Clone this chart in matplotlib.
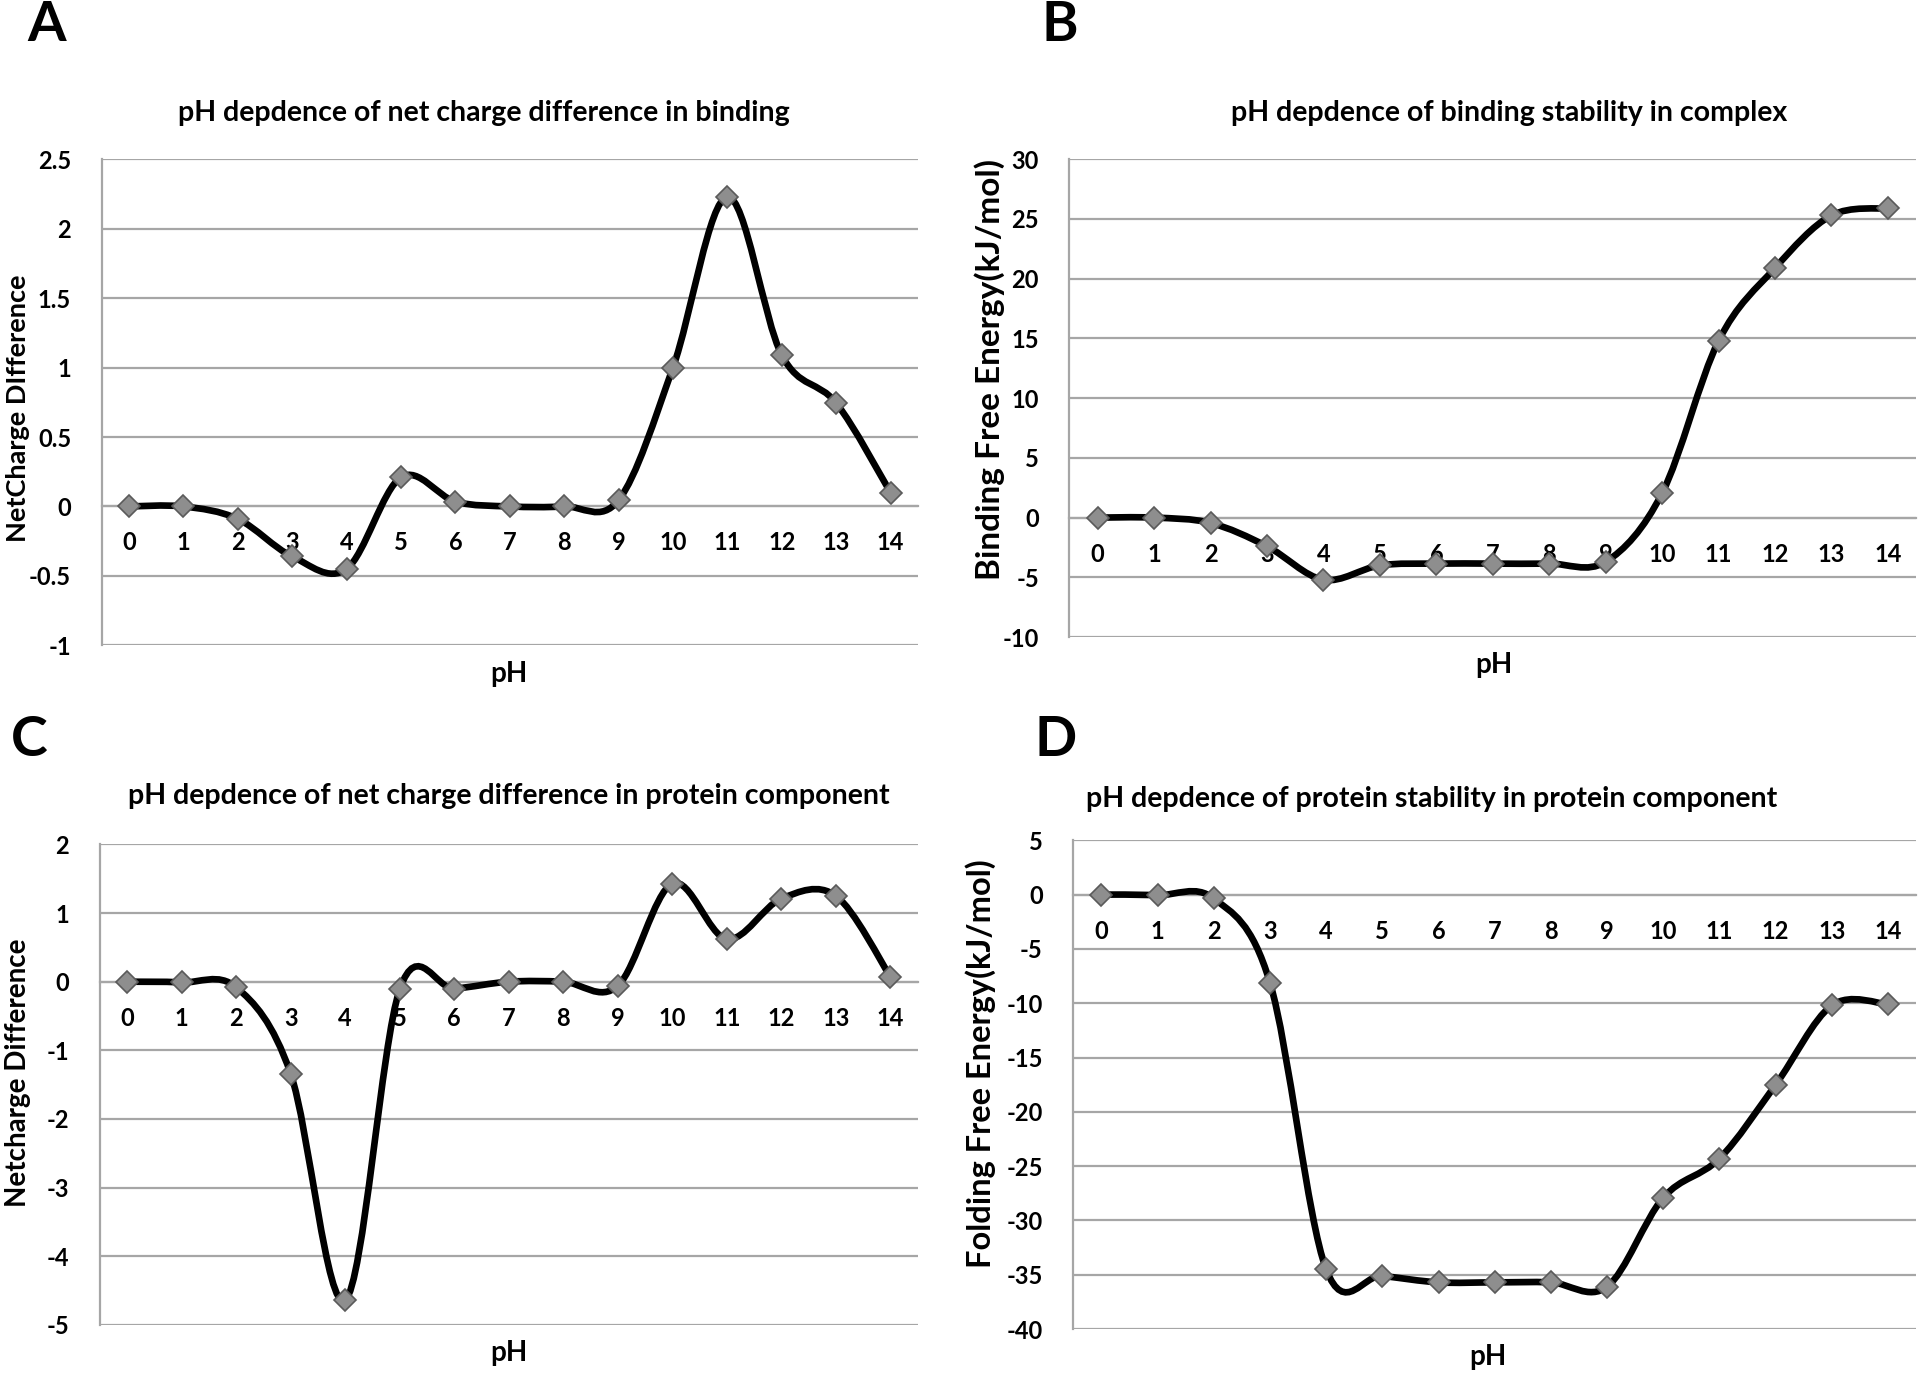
import numpy as np
import matplotlib as mpl
mpl.use('Agg')
import matplotlib.pyplot as plt
from matplotlib.path import Path
from matplotlib.patches import PathPatch

# ========== Data ==========
ph = list(range(15))

net_binding = [0, 0, -0.09, -0.36, -0.45, 0.21, 0.035, 0.0, 0.0, 0.045, 1.0, 2.23, 1.09, 0.745, 0.1]
dg_binding = [0, 0, -0.45, -2.4, -5.2, -4.0, -3.85, -3.85, -3.85, -3.7, 2.05, 14.8, 20.9, 25.3, 25.9]
net_protein = [0, -0.01, -0.08, -1.34, -4.64, -0.11, -0.1, 0.0, 0.0, -0.06, 1.43, 0.62, 1.21, 1.25, 0.07]
dg_folding = [0, -0.05, -0.36, -8.1, -34.5, -35.1, -35.7, -35.7, -35.7, -36.1, -27.9, -24.3, -17.5, -10.2, -10.1]

titles = ["pH depdence of net charge difference in binding",
          "pH depdence of binding stability in complex",
          "pH depdence of net charge difference in protein component",
          "pH depdence of protein stability in protein component"]
ylabels = ["NetCharge DIfference", "Binding Free Energy(kJ/mol)",
           "Netcharge Difference", "Folding Free Energy(kJ/mol)"]
letters = ["A", "B", "C", "D"]
ylims = [(-1, 2.5, 0.5), (-10, 30, 5), (-5, 2, 1), (-40, 5, 5)]

FONT = "Lato"
GRID = "#a6a6a6"


def smooth_path(x, y):
    # excel style smoothed line: catmull-rom segments as cubic beziers
    pts = np.column_stack([x, y]).astype(float)
    n = len(pts)
    verts = [pts[0]]
    codes = [Path.MOVETO]
    for i in range(n - 1):
        p0 = pts[max(i - 1, 0)]
        p1 = pts[i]
        p2 = pts[i + 1]
        p3 = pts[min(i + 2, n - 1)]
        c1 = p1 + (p2 - p0) / 6.0
        c2 = p2 - (p3 - p1) / 6.0
        verts += [c1, c2, p2]
        codes += [Path.CURVE4] * 3
    return Path(verts, codes)


def draw_panel(fig, rect, y, title, ylabel, letter, lim, title_x, title_y,
               letter_xy, ylab_xy, ylab_size, xlab_xy):
    ax = fig.add_axes(rect)
    ymin, ymax, step = lim
    ax.set_xlim(-0.5, 14.5)
    ax.set_ylim(ymin, ymax)
    ax.set_yticks(np.arange(ymin, ymax + step / 2, step))
    ax.yaxis.set_major_formatter(mpl.ticker.FuncFormatter(lambda v, p: f"{v:g}"))
    ax.set_xticks(ph)
    ax.grid(axis="y", color=GRID, lw=1.6)
    ax.set_axisbelow(True)
    for s in ["top", "right"]:
        ax.spines[s].set_visible(False)
    ax.spines["left"].set_color(GRID)
    ax.spines["left"].set_linewidth(1.6)
    ax.spines["bottom"].set_position(("data", 0))
    ax.spines["bottom"].set_color(GRID)
    ax.spines["bottom"].set_linewidth(1.6)
    ax.tick_params(axis="both", length=0, labelsize=17)
    ax.tick_params(axis="x", pad=18)
    ax.tick_params(axis="y", pad=22)
    for lab in ax.get_xticklabels() + ax.get_yticklabels():
        lab.set_fontfamily(FONT)
        lab.set_fontweight("bold")

    ax.add_patch(PathPatch(smooth_path(ph, y), fill=False, lw=4.8,
                           ec="black", capstyle="round", zorder=3))
    ax.plot(ph, y, ls="none", marker="D", ms=11.5, mfc="#8e8e8e",
            mec="#5a5a5a", mew=1.2, zorder=4)

    fig.text(title_x, title_y, title, ha="center", va="center",
             fontsize=20.5, fontweight="bold", family=FONT)
    fig.text(letter_xy[0], letter_xy[1], letter, ha="center", va="center",
             fontsize=40, fontweight="bold", family=FONT)
    fig.text(ylab_xy[0], ylab_xy[1], ylabel, ha="center", va="center",
             rotation=90, fontsize=ylab_size, fontweight="bold", family=FONT)
    fig.text(xlab_xy[0], xlab_xy[1], "pH", ha="center", va="center",
             fontsize=20, fontweight="bold", family=FONT)
    return ax


fig = plt.figure(figsize=(19.2, 13.73), dpi=100)

draw_panel(fig, [0.053, 0.530, 0.425, 0.354], net_binding, titles[0], ylabels[0],
           letters[0], ylims[0], 0.252, 0.918, (0.024, 0.982), (0.0095, 0.703), 19.5,
           (0.265, 0.509))
draw_panel(fig, [0.557, 0.536, 0.441, 0.348], dg_binding, titles[1], ylabels[1],
           letters[1], ylims[1], 0.786, 0.918, (0.552, 0.982), (0.5155, 0.731), 24,
           (0.778, 0.516))
draw_panel(fig, [0.052, 0.035, 0.426, 0.350], net_protein, titles[2], ylabels[2],
           letters[2], ylims[2], 0.265, 0.420, (0.0153, 0.461), (0.0095, 0.219), 20,
           (0.265, 0.0143))
draw_panel(fig, [0.559, 0.032, 0.439, 0.356], dg_folding, titles[3], ylabels[3],
           letters[3], ylims[3], 0.7455, 0.418, (0.55, 0.461), (0.5105, 0.225), 23.5,
           (0.775, 0.0116))

fig.savefig("out.png", dpi=100, facecolor="white")
